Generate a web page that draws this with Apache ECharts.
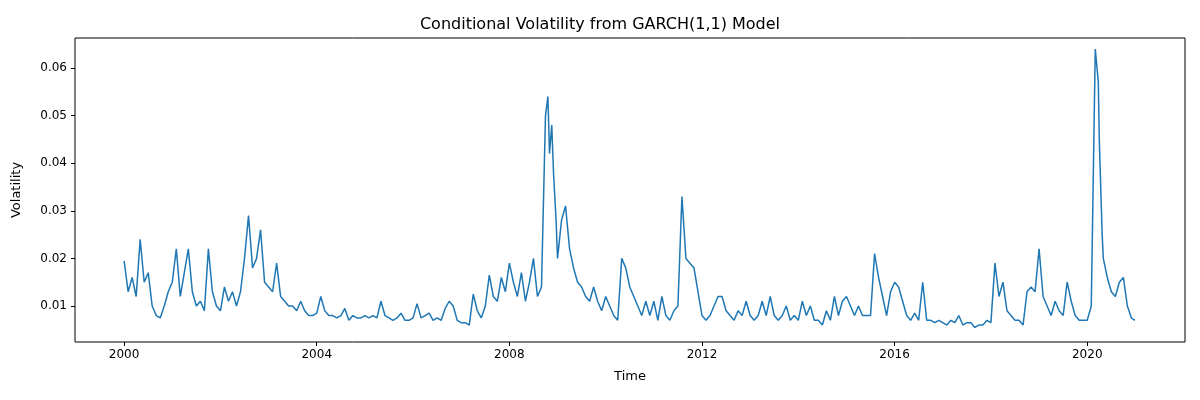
<!DOCTYPE html>
<html><head><meta charset="utf-8">
<script src="https://cdn.jsdelivr.net/npm/echarts@6/dist/echarts.min.js"></script>
<style>html,body{margin:0;padding:0;background:#fff}#c{width:1200px;height:400px}</style>
</head><body><div id="c"></div>
<script>
const years = [2000,2001,2002,2003,2004,2005,2006,2007,2008,2009,2010,2011,2012,2013,2014,2015,2016,2017,2018,2019,2020];
const monthly = {
2000:[0.0195,0.013,0.016,0.012,0.024,0.015,0.017,0.010,0.008,0.0075,0.010,0.013],
2001:[0.015,0.022,0.012,0.017,0.022,0.013,0.010,0.011,0.009,0.022,0.013,0.010],
2002:[0.009,0.014,0.011,0.013,0.010,0.013,0.020,0.029,0.018,0.020,0.026,0.015],
2003:[0.014,0.013,0.019,0.012,0.011,0.010,0.010,0.009,0.011,0.009,0.008,0.008],
2004:[0.0085,0.012,0.009,0.008,0.008,0.0075,0.008,0.0095,0.007,0.008,0.0075,0.0075],
2005:[0.008,0.0075,0.008,0.0075,0.011,0.008,0.0075,0.007,0.0075,0.0085,0.007,0.007],
2006:[0.0075,0.0105,0.0075,0.008,0.0085,0.007,0.0075,0.007,0.0095,0.011,0.010,0.007],
2007:[0.0065,0.0065,0.006,0.0125,0.009,0.0075,0.010,0.0165,0.012,0.011,0.016,0.013],
2008:[0.019,0.015,0.012,0.017,0.011,0.015,0.020,0.012,0.014,0.050,0.042,0.038],
2009:[0.020,0.028,0.031,0.022,0.018,0.015,0.014,0.012,0.011,0.014,0.011,0.009],
2010:[0.012,0.010,0.008,0.007,0.020,0.018,0.014,0.012,0.010,0.008,0.011,0.008],
2011:[0.011,0.007,0.012,0.008,0.007,0.009,0.010,0.033,0.020,0.019,0.018,0.013],
2012:[0.008,0.007,0.008,0.010,0.012,0.012,0.009,0.008,0.007,0.009,0.008,0.011],
2013:[0.008,0.007,0.008,0.011,0.008,0.012,0.008,0.007,0.008,0.010,0.007,0.008],
2014:[0.007,0.011,0.008,0.010,0.007,0.007,0.006,0.009,0.007,0.012,0.008,0.011],
2015:[0.012,0.010,0.008,0.010,0.008,0.008,0.008,0.021,0.016,0.012,0.008,0.013],
2016:[0.015,0.014,0.011,0.008,0.007,0.0085,0.007,0.015,0.007,0.007,0.0065,0.007],
2017:[0.0065,0.006,0.007,0.0065,0.008,0.006,0.0065,0.0065,0.0055,0.006,0.006,0.007],
2018:[0.0065,0.019,0.012,0.015,0.009,0.008,0.007,0.007,0.006,0.013,0.014,0.013],
2019:[0.022,0.012,0.010,0.008,0.011,0.009,0.008,0.015,0.011,0.008,0.007,0.007],
2020:[0.007,0.010,0.064,0.045,0.020,0.016,0.013,0.012,0.015,0.016,0.010,0.0075]
};
const extraTimes = [2008.80,2008.88,2008.97,2020.23,2020.31,2020.99];
const extraValues = [0.054,0.048,0.028,0.057,0.025,0.007];
const xTicks = [2000,2004,2008,2012,2016,2020];
const yTicks = [0.01,0.02,0.03,0.04,0.05,0.06];

let data = [];
years.forEach(y => monthly[y].forEach((v,m) => data.push([y + m/12, v])));
extraTimes.forEach((t,i) => data.push([t, extraValues[i]]));
data.sort((a,b)=>a[0]-b[0]);

const ch = echarts.init(document.getElementById('c'));
const fnt = 'DejaVu Sans';
ch.setOption({
  animation:false,
  title:{text:'Conditional Volatility from GARCH(1,1) Model',left:'center',top:12,textStyle:{fontFamily:fnt,fontSize:16,fontWeight:'normal',color:'#000'}},
  grid:{left:75,right:15,top:38,bottom:58,show:true,borderColor:'#000',borderWidth:1,containLabel:false},
  xAxis:{type:'value',min:1998.98,max:2022.03,
    name:'Time',nameLocation:'middle',nameGap:28,nameTextStyle:{fontFamily:fnt,fontSize:13,color:'#000'},
    axisLine:{show:false},splitLine:{show:false},
    axisTick:{show:true,length:4,lineStyle:{color:'#000'},customValues:xTicks},
    axisLabel:{fontFamily:fnt,fontSize:12,color:'#000',margin:7,customValues:xTicks,formatter:v=>String(Math.round(v))}
  },
  yAxis:{type:'value',min:0.00244,max:0.0663,
    name:'Volatility',nameLocation:'middle',nameGap:52,nameRotate:90,nameTextStyle:{fontFamily:fnt,fontSize:13,color:'#000'},
    axisLine:{show:false},splitLine:{show:false},
    axisTick:{show:true,length:4,lineStyle:{color:'#000'},customValues:yTicks},
    axisLabel:{fontFamily:fnt,fontSize:12,color:'#000',margin:8,customValues:yTicks,formatter:v=>v.toFixed(2)}
  },
  series:[{type:'line',data:data,showSymbol:false,lineStyle:{color:'#1f77b4',width:1.5},itemStyle:{color:'#1f77b4'}}]
});
</script></body></html>
